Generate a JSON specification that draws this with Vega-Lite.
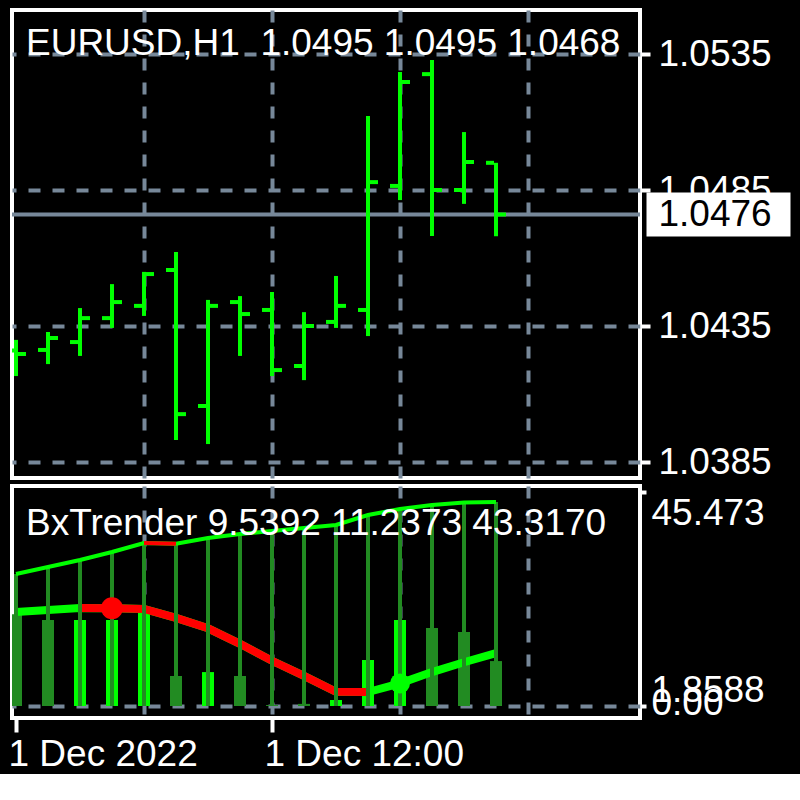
{
  "$schema": "https://vega.github.io/schema/vega-lite/v6.json",
  "background": "black",
  "padding": {"left": 6, "top": 8, "right": 0, "bottom": 0},
  "spacing": 8,
  "bounds": "flush",
  "config": {
    "view": {"stroke": "white", "strokeWidth": 4},
    "font": "Liberation Sans",
    "axis": {
      "domain": false, "title": null,
      "labelFont": "Liberation Sans", "labelFontSize": 37, "labelColor": "white", "labelLimit": 0,
      "gridColor": "#778899", "gridDash": [12, 12], "gridWidth": 4,
      "tickColor": "white", "tickWidth": 4,
      "labelOverlap": false, "labelBound": false, "labelFlush": false
    }
  },
  "datasets": {
    "bars": [
      {"time": "2022-12-01T04:00:00Z", "open": 1.0426, "high": 1.04299, "low": 1.04166, "close": 1.04247, "hist": 19.5, "hstate": "falling", "long": 28.03, "t3": 19.96, "t3down": false, "longdown": false},
      {"time": "2022-12-01T05:00:00Z", "open": 1.04262, "high": 1.04328, "low": 1.0421, "close": 1.04306, "hist": 18.26, "hstate": "falling", "long": 29.51, "t3": 20.4, "t3down": false, "longdown": false},
      {"time": "2022-12-01T06:00:00Z", "open": 1.04291, "high": 1.04416, "low": 1.0424, "close": 1.04379, "hist": 18.26, "hstate": "rising", "long": 31.0, "t3": 20.8, "t3down": true, "longdown": false},
      {"time": "2022-12-01T07:00:00Z", "open": 1.04379, "high": 1.04504, "low": 1.04343, "close": 1.04438, "hist": 18.26, "hstate": "rising", "long": 32.7, "t3": 20.75, "t3down": true, "longdown": false, "signal": "sell"},
      {"time": "2022-12-01T08:00:00Z", "open": 1.04424, "high": 1.04549, "low": 1.04387, "close": 1.04541, "hist": 19.9, "hstate": "rising", "long": 34.61, "t3": 20.6, "t3down": true, "longdown": true},
      {"time": "2022-12-01T09:00:00Z", "open": 1.04556, "high": 1.04622, "low": 1.03931, "close": 1.04026, "hist": 6.37, "hstate": "falling", "long": 34.45, "t3": 18.7, "t3down": true, "longdown": true},
      {"time": "2022-12-01T10:00:00Z", "open": 1.04056, "high": 1.04446, "low": 1.03916, "close": 1.04424, "hist": 7.2, "hstate": "rising", "long": 35.67, "t3": 16.5, "t3down": true, "longdown": false},
      {"time": "2022-12-01T11:00:00Z", "open": 1.04438, "high": 1.0446, "low": 1.0424, "close": 1.04394, "hist": 6.37, "hstate": "falling", "long": 36.52, "t3": 13.2, "t3down": true, "longdown": false},
      {"time": "2022-12-01T12:00:00Z", "open": 1.04409, "high": 1.04475, "low": 1.04166, "close": 1.04188, "hist": 0.2, "hstate": "falling", "long": 37.16, "t3": 9.6, "t3down": true, "longdown": false},
      {"time": "2022-12-01T13:00:00Z", "open": 1.04203, "high": 1.04401, "low": 1.04151, "close": 1.0435, "hist": 0.45, "hstate": "falling", "long": 37.8, "t3": 6.4, "t3down": true, "longdown": false},
      {"time": "2022-12-01T14:00:00Z", "open": 1.04365, "high": 1.04534, "low": 1.04343, "close": 1.04424, "hist": 1.27, "hstate": "rising", "long": 38.43, "t3": 3.0, "t3down": true, "longdown": false},
      {"time": "2022-12-01T15:00:00Z", "open": 1.04409, "high": 1.05122, "low": 1.04313, "close": 1.04879, "hist": 9.77, "hstate": "rising", "long": 40.56, "t3": 2.95, "t3down": true, "longdown": false},
      {"time": "2022-12-01T16:00:00Z", "open": 1.04865, "high": 1.05284, "low": 1.04813, "close": 1.05247, "hist": 18.26, "hstate": "rising", "long": 41.83, "t3": 4.8, "t3down": false, "longdown": false, "signal": "buy"},
      {"time": "2022-12-01T17:00:00Z", "open": 1.05276, "high": 1.05328, "low": 1.04681, "close": 1.0485, "hist": 16.56, "hstate": "falling", "long": 42.68, "t3": 7.2, "t3down": false, "longdown": false},
      {"time": "2022-12-01T18:00:00Z", "open": 1.0485, "high": 1.05063, "low": 1.04799, "close": 1.04953, "hist": 15.71, "hstate": "falling", "long": 43.2, "t3": 9.3, "t3down": false, "longdown": false},
      {"time": "2022-12-01T19:00:00Z", "open": 1.0495, "high": 1.0495, "low": 1.0468, "close": 1.0476, "hist": 9.5392, "hstate": "falling", "long": 43.317, "t3": 11.2373, "t3down": false, "longdown": false}
    ],
    "bid": [{"symbol": "EURUSD", "bid": 1.0476}]
  },
  "vconcat": [
    {
      "width": 628,
      "height": 468,
      "data": {"name": "bars"},
      "resolve": {"axis": {"y": "independent"}},
      "layer": [
        {
          "data": {"name": "bid"},
          "mark": {"type": "rule", "color": "#778899", "strokeWidth": 4},
          "encoding": {
            "y": {
              "field": "bid", "type": "quantitative",
              "scale": {"domain": [1.037912, 1.055118], "nice": false, "zero": false},
              "axis": {"orient": "right", "values": [1.0476], "format": ".4f", "grid": false, "zindex": 1,
                       "offset": 6, "tickSize": 144, "tickWidth": 44, "labelColor": "black", "labelPadding": -132}
            }
          }
        },
        {
          "mark": {"type": "rule", "color": "#00ff00", "strokeWidth": 4, "clip": true},
          "encoding": {
            "x": {
              "field": "time", "type": "temporal",
              "scale": {"type": "utc", "nice": false, "domain": [
                {"year": 2022, "month": 12, "date": 1, "hours": 3, "minutes": 52, "seconds": 30, "utc": true},
                {"year": 2022, "month": 12, "date": 1, "hours": 23, "minutes": 30, "utc": true}]},
              "axis": {"values": [
                {"year": 2022, "month": 12, "date": 1, "hours": 8, "utc": true},
                {"year": 2022, "month": 12, "date": 1, "hours": 12, "utc": true},
                {"year": 2022, "month": 12, "date": 1, "hours": 16, "utc": true},
                {"year": 2022, "month": 12, "date": 1, "hours": 20, "utc": true}],
                "grid": true, "labels": false, "ticks": false}
            },
            "y": {
              "field": "low", "type": "quantitative",
              "axis": {"orient": "right", "values": [1.0385, 1.0435, 1.0485, 1.0535], "format": ".4f",
                       "grid": true, "tickSize": 10, "labelPadding": 8}
            },
            "y2": {"field": "high"}
          }
        },
        {
          "mark": {"type": "tick", "orient": "horizontal", "color": "#00ff00", "size": 8, "thickness": 4, "xOffset": -6, "opacity": 1, "clip": true},
          "encoding": {
            "x": {"field": "time", "type": "temporal"},
            "y": {"field": "open", "type": "quantitative", "axis": null}
          }
        },
        {
          "mark": {"type": "tick", "orient": "horizontal", "color": "#00ff00", "size": 8, "thickness": 4, "xOffset": 6, "opacity": 1, "clip": true},
          "encoding": {
            "x": {"field": "time", "type": "temporal"},
            "y": {"field": "close", "type": "quantitative", "axis": null}
          }
        },
        {
          "data": {"values": [{"label": "EURUSD,H1\u00a0 1.0495 1.0495 1.0468"}]},
          "mark": {"type": "text", "align": "left", "baseline": "alphabetic", "dx": 10, "dy": 1, "fontSize": 37, "color": "white", "font": "Liberation Sans"},
          "encoding": {
            "x": {"datum": {"year": 2022, "month": 12, "date": 1, "hours": 4, "utc": true}, "type": "temporal"},
            "y": {"datum": 1.0535, "type": "quantitative", "axis": null},
            "text": {"field": "label"}
          }
        }
      ]
    },
    {
      "width": 628,
      "height": 232,
      "data": {"name": "bars"},
      "layer": [
        {
          "mark": {"type": "rule", "strokeWidth": 12, "clip": true},
          "encoding": {
            "x": {
              "field": "time", "type": "temporal",
              "scale": {"type": "utc", "nice": false, "domain": [
                {"year": 2022, "month": 12, "date": 1, "hours": 3, "minutes": 52, "seconds": 30, "utc": true},
                {"year": 2022, "month": 12, "date": 1, "hours": 23, "minutes": 30, "utc": true}]},
              "axis": {
                "values": [
                  {"year": 2022, "month": 12, "date": 1, "hours": 4, "utc": true},
                  {"year": 2022, "month": 12, "date": 1, "hours": 8, "utc": true},
                  {"year": 2022, "month": 12, "date": 1, "hours": 12, "utc": true},
                  {"year": 2022, "month": 12, "date": 1, "hours": 16, "utc": true},
                  {"year": 2022, "month": 12, "date": 1, "hours": 20, "utc": true}],
                "grid": true,
                "gridOpacity": {"condition": {"test": "utchours(datum.value) == 4", "value": 0}, "value": 1},
                "ticks": true, "tickSize": 14,
                "tickOpacity": {"condition": {"test": "utchours(datum.value) == 4 || utchours(datum.value) == 12", "value": 1}, "value": 0},
                "labelExpr": "utchours(datum.value) == 4 ? utcFormat(datum.value, '%-d %b %Y') : (utchours(datum.value) == 12 ? utcFormat(datum.value, '%-d %b %H:%M') : '')",
                "labelAlign": "left", "labelOffset": -8, "labelPadding": 4
              }
            },
            "y": {
              "field": "hist", "type": "quantitative",
              "scale": {"domain": [-2.548, 46.714], "nice": false, "zero": false},
              "axis": {
                "orient": "right", "values": [0, 1.8588, 45.473],
                "labelExpr": "datum.value == 0 ? '0.00' : format(datum.value, '.5')",
                "grid": true,
                "gridOpacity": {"condition": {"test": "datum.value == 0", "value": 1}, "value": 0},
                "tickSize": 6,
                "tickOpacity": {"condition": {"test": "datum.value > 1 && datum.value < 40", "value": 0}, "value": 1},
                "labelPadding": 5,
                "labelOffset": {"condition": [{"test": "datum.value > 40", "value": 22}, {"test": "datum.value > 1", "value": -7}], "value": -3}
              }
            },
            "y2": {"datum": 0},
            "color": {"field": "hstate", "type": "nominal", "scale": {"domain": ["rising", "falling"], "range": ["#00ff00", "#228b22"]}, "legend": null}
          }
        },
        {
          "mark": {"type": "line", "color": "#00ff00", "strokeWidth": 8, "clip": true},
          "encoding": {
            "x": {"field": "time", "type": "temporal"},
            "y": {"field": "t3", "type": "quantitative"}
          }
        },
        {
          "transform": [{"filter": "datum.t3down"}],
          "mark": {"type": "line", "color": "#ff0000", "strokeWidth": 8, "clip": true},
          "encoding": {
            "x": {"field": "time", "type": "temporal"},
            "y": {"field": "t3", "type": "quantitative"}
          }
        },
        {
          "mark": {"type": "rule", "color": "#228b22", "strokeWidth": 4, "clip": true},
          "encoding": {
            "x": {"field": "time", "type": "temporal"},
            "y": {"field": "long", "type": "quantitative"},
            "y2": {"datum": 0}
          }
        },
        {
          "mark": {"type": "line", "color": "#00ff00", "strokeWidth": 4, "clip": true},
          "encoding": {
            "x": {"field": "time", "type": "temporal"},
            "y": {"field": "long", "type": "quantitative"}
          }
        },
        {
          "transform": [{"filter": "datum.longdown"}],
          "mark": {"type": "line", "color": "#ff0000", "strokeWidth": 4, "clip": true},
          "encoding": {
            "x": {"field": "time", "type": "temporal"},
            "y": {"field": "long", "type": "quantitative"}
          }
        },
        {
          "transform": [{"filter": "datum.signal == 'sell'"}],
          "mark": {"type": "point", "shape": "circle", "filled": true, "size": 484, "opacity": 1, "color": "#ff0000"},
          "encoding": {
            "x": {"field": "time", "type": "temporal"},
            "y": {"field": "t3", "type": "quantitative"}
          }
        },
        {
          "transform": [{"filter": "datum.signal == 'buy'"}],
          "mark": {"type": "point", "shape": "circle", "filled": true, "size": 400, "opacity": 1, "color": "#00ff00"},
          "encoding": {
            "x": {"field": "time", "type": "temporal"},
            "y": {"field": "t3", "type": "quantitative"}
          }
        },
        {
          "data": {"values": [{"label": "BxTrender 9.5392 11.2373 43.3170"}]},
          "mark": {"type": "text", "align": "left", "baseline": "alphabetic", "dx": 10, "fontSize": 37, "color": "white", "font": "Liberation Sans"},
          "encoding": {
            "x": {"datum": {"year": 2022, "month": 12, "date": 1, "hours": 4, "utc": true}, "type": "temporal"},
            "y": {"datum": 36.3, "type": "quantitative"},
            "text": {"field": "label"}
          }
        }
      ]
    }
  ]
}
